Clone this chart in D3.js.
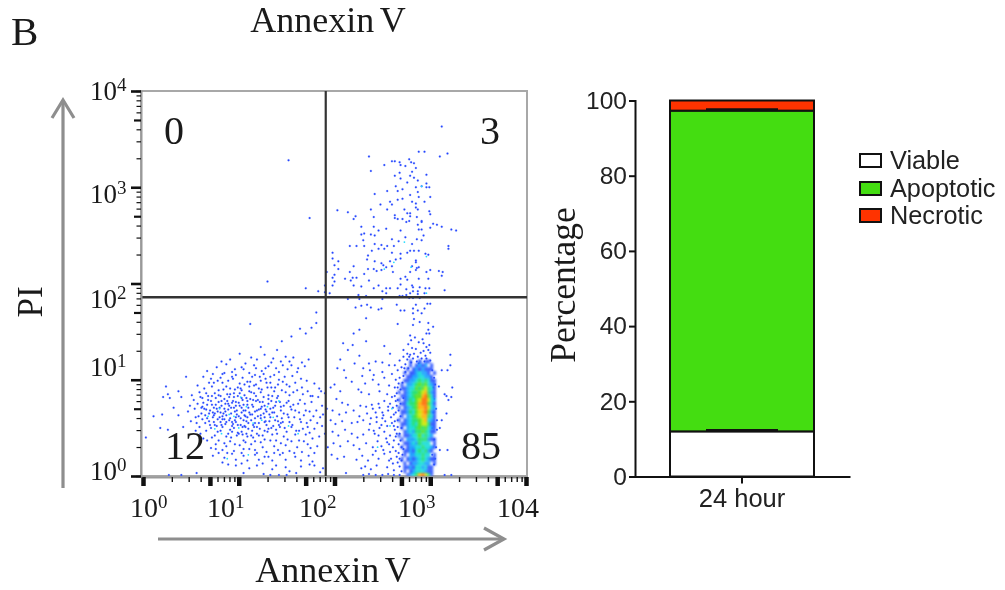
<!DOCTYPE html>
<html>
<head>
<meta charset="utf-8">
<script src="https://cdn.jsdelivr.net/npm/d3@7"></script>
<style>
html, body { margin: 0; padding: 0; background: #fff; }
#chart { width: 1005px; height: 590px; overflow: hidden; }
svg { display: block; filter: blur(0.45px); }
.serif { font-family: "Liberation Serif", serif; fill: #1a1a1a; }
.sans { font-family: "Liberation Sans", sans-serif; fill: #222; }
</style>
</head>
<body>
<div id="chart"></div>
<script>
// flow plot events, [log10 annexin, log10 PI]
const upperEvents = [
[3.12,3.63],[2.88,3.37],[2.94,3.37],[2.36,3.32],[3.10,3.32],[3.18,3.35],[2.60,3.27],[2.63,3.27],[2.52,3.23],[2.68,3.26],[2.69,3.23],[2.74,3.22],
[2.78,3.29],[2.80,3.26],[2.83,3.25],[2.85,3.20],[2.38,3.17],[2.68,3.15],[2.63,3.12],[2.81,3.16],[2.79,3.12],[2.83,3.10],[2.87,3.07],[2.96,3.13],
[2.69,3.09],[2.76,3.05],[2.91,3.01],[2.64,3.01],[2.96,3.04],[2.96,3.00],[2.99,3.00],[2.85,3.00],[2.71,2.98],[2.66,2.96],[2.55,2.96],[2.42,2.93],
[2.87,2.95],[2.79,2.92],[2.88,2.90],[3.00,2.90],[2.66,2.87],[2.71,2.88],[2.81,2.85],[2.85,2.83],[2.94,2.85],[2.58,2.85],[2.60,2.82],[2.48,2.82],
[2.03,2.76],[2.14,2.74],[2.38,2.77],[2.55,2.77],[2.73,2.77],[2.85,2.79],[2.87,2.77],[2.99,2.75],[2.22,2.70],[2.20,2.67],[2.41,2.69],[2.63,2.71],
[2.63,2.68],[2.66,2.67],[2.71,2.67],[2.76,2.73],[2.79,2.73],[2.86,2.69],[3.00,2.72],[2.79,2.70],[2.91,2.65],[3.03,2.62],[3.07,2.61],[3.12,2.59],
[3.22,2.56],[3.27,2.55],[2.75,2.64],[2.78,2.65],[2.28,2.59],[2.41,2.59],[2.54,2.57],[2.87,2.61],[2.91,2.64],[3.00,2.58],[2.69,2.55],[2.88,2.56],
[2.91,2.56],[2.46,2.55],[2.31,2.52],[2.28,2.51],[2.38,2.51],[2.42,2.50],[2.74,2.48],[2.93,2.50],[2.30,2.45],[2.60,2.46],[2.86,2.46],[2.91,2.45],
[2.67,2.44],[2.42,2.41],[2.16,2.39],[2.23,2.39],[2.31,2.39],[2.49,2.40],[2.55,2.39],[2.62,2.39],[2.81,2.41],[2.46,2.36],[2.52,2.36],[2.39,2.34],
[2.79,2.34],[2.83,2.34],[2.88,2.34],[3.19,2.39],[3.19,2.36],[2.60,2.32],[2.69,2.31],[2.76,2.32],[2.95,2.31],[2.98,2.30],[1.98,2.32],[2.35,2.29],
[2.34,2.25],[2.64,2.25],[2.69,2.26],[1.98,2.26],[2.04,2.23],[2.42,2.23],[2.58,2.23],[2.85,2.24],[2.85,2.22],[2.49,2.21],[2.00,2.19],[2.20,2.18],
[2.81,2.18],[2.51,2.19],[2.35,2.15],[2.41,2.15],[2.04,2.15],[2.54,2.17],[2.60,2.18],[2.88,2.17],[2.86,2.16],[2.85,2.14],[2.44,2.13],[2.49,2.14],
[3.00,2.14],[3.09,2.13],[3.13,2.12],[2.96,2.12],[2.16,2.12],[2.31,2.10],[2.61,2.12],[2.79,2.12],[2.00,2.09],[3.12,2.08],[2.19,2.06],[2.23,2.06],
[2.11,2.05],[2.74,2.07],[2.88,2.05],[2.69,2.05],[2.98,2.05],[1.92,2.12],[1.98,2.06],[2.17,2.03],[2.36,2.03],[2.00,2.02],[2.76,2.04],[2.20,1.98],
[1.98,1.98],[1.90,1.98],[2.28,1.97],[2.41,1.95],[2.46,1.98],[2.69,1.99],[2.81,1.98],[2.82,1.96],[2.54,1.95],[2.58,1.95],[2.66,1.95],[2.75,1.94],
[2.89,1.96],[2.95,1.95],[2.99,1.95],[3.15,1.93],[2.50,1.92],[2.54,1.90],[2.79,1.90],[2.82,1.92],[2.87,1.92],[2.87,1.89],[2.94,1.90],[1.90,1.91],
[1.95,1.90],[2.25,1.88],[2.33,1.87],[2.68,1.87],[2.71,1.87],[2.75,1.88],[2.78,1.85],[2.82,1.85],[2.14,1.84],[2.26,1.84],[2.50,1.84],[2.89,1.85],
[1.52,3.28],[1.74,2.68],[1.30,2.02],[1.70,1.95],[1.83,1.92]
];
const lowerRightEvents = [
[2.28,1.77],[2.34,1.78],[2.38,1.75],[2.46,1.73],[2.22,1.75],[2.49,1.74],[2.65,1.78],[2.69,1.72],[2.73,1.72],[2.82,1.74],[2.85,1.78],[2.87,1.72],
[2.91,1.69],[2.97,1.79],[3.00,1.79],[2.94,1.74],[2.82,1.69],[2.83,1.63],[2.33,1.64],[2.89,1.60],[2.98,1.59],[2.66,1.58],[2.26,1.52],[2.20,1.48],
[2.98,1.52],[3.03,1.55],[2.82,1.57],[2.79,1.46],[2.84,1.44],[2.96,1.48],[2.99,1.48],[2.33,1.40],[2.19,1.36],[2.09,1.38],[2.14,1.31],[2.52,1.35],
[2.93,1.38],[2.96,1.34],[2.99,1.36],[2.98,1.31],[3.00,1.28],[2.58,1.27],[2.26,1.25],[2.06,1.21],[2.72,1.31],[2.76,1.27],[3.21,1.26],[2.78,1.24],
[2.82,1.22],[2.86,1.19],[2.91,1.22],[2.96,1.22],[2.72,1.24],[2.68,1.20],[2.74,1.16],[2.80,1.18],[2.88,1.17],[2.94,1.19],[3.00,1.20],[2.63,1.15],
[2.70,1.13],[2.77,1.12],[2.50,1.18],[2.43,1.19],[2.57,1.15],[2.36,1.17],[2.30,1.12],[2.21,1.17],[2.10,1.10],[2.03,1.12],[2.12,1.02],[2.18,0.98],
[2.29,1.04],[2.37,1.10],[2.41,1.05],[2.50,1.08],[2.40,1.00],[2.32,0.96],[2.46,0.95],[2.52,1.02],[2.60,1.06],[2.64,1.00],[2.57,0.94],[2.63,0.92],
[2.00,0.95],[1.96,0.92],[2.06,0.88],[2.25,0.90],[2.28,0.87],[2.36,0.85],[2.47,0.88],[2.55,0.85],[2.60,0.82],[2.65,0.86],[3.12,1.10],[3.18,1.10],
[3.21,1.15],[3.09,0.93],[3.15,0.85],[3.17,0.83],[3.23,0.92],[3.22,0.82],[3.19,0.79],[3.17,0.65],[3.12,0.58],[3.07,0.48],[3.10,0.50],[3.18,0.27],
[3.10,0.27],[3.15,0.01],[3.22,0.01],[2.02,0.80],[2.08,0.76],[2.14,0.74],[2.20,0.68],[2.27,0.73],[2.33,0.72],[2.40,0.70],[2.46,0.75],[2.52,0.78],
[2.58,0.75],[2.64,0.78],[1.98,0.68],[2.05,0.64],[2.12,0.66],[2.26,0.62],[2.34,0.65],[2.38,0.60],[2.43,0.66],[2.50,0.66],[2.56,0.68],[2.62,0.64],
[1.96,0.58],[2.01,0.54],[2.08,0.57],[2.18,0.55],[2.24,0.56],[2.30,0.58],[2.37,0.54],[2.44,0.56],[2.50,0.60],[2.55,0.52],[2.60,0.55],[2.66,0.58],
[1.98,0.46],[2.04,0.42],[2.11,0.48],[2.18,0.44],[2.24,0.40],[2.30,0.43],[2.36,0.48],[2.42,0.44],[2.47,0.50],[2.52,0.46],[2.58,0.42],[2.63,0.48],
[2.68,0.44],[1.99,0.34],[2.06,0.31],[2.14,0.36],[2.20,0.32],[2.26,0.28],[2.33,0.34],[2.40,0.30],[2.45,0.36],[2.49,0.31],[2.55,0.35],[2.61,0.30],
[2.67,0.33],[2.72,0.28],[1.97,0.22],[2.03,0.18],[2.10,0.20],[2.23,0.17],[2.29,0.21],[2.35,0.16],[2.40,0.22],[2.46,0.18],[2.52,0.23],[2.59,0.18],
[2.65,0.20],[2.70,0.16],[2.32,0.10],[2.28,0.08],[2.38,0.07],[2.44,0.11],[2.55,0.09],[2.62,0.06],[2.68,0.10],[2.12,0.03],[2.30,0.01],[2.36,0.02],
[2.43,0.01],[2.50,0.01],[2.56,0.02],[2.62,0.01],[2.68,0.01],
[2.47,0.71],[2.51,0.63],[2.44,0.61],[2.39,0.74],[2.53,0.57],[2.59,0.61],[2.61,0.71],[2.56,0.72],[2.49,0.53],[2.41,0.47],[2.46,0.42],[2.54,0.39],
[2.57,0.33],[2.62,0.37],[2.64,0.26],[2.51,0.27],[2.58,0.25],[2.43,0.26],[2.66,0.51],[2.63,0.57],[2.67,0.68],[2.65,0.73],[2.69,0.37],[2.71,0.22],
[2.66,0.14],[2.61,0.13],[2.57,0.16],[2.69,0.62],[2.70,0.50],[2.72,0.81],[2.69,0.90],[2.67,0.96],[2.72,1.04],[2.66,1.10],[2.74,1.08],[2.70,0.05],
// fringe of the crowded gate
[2.64,0.66],[2.66,0.92],[2.68,1.02],[2.65,0.44],[2.67,0.24],[2.64,0.41],[2.69,0.75],[2.63,0.83],[2.70,0.30],[2.68,0.18],[2.62,0.52],[2.66,0.79],
[2.71,0.97],[2.73,1.12],[2.76,1.21],[2.79,1.26],[2.83,1.27],[2.87,1.24],[2.90,1.28],[2.93,1.30],[2.95,1.25],[2.85,1.32],[2.81,1.33],[2.77,1.37],
[2.80,1.41],[2.88,1.39],[2.92,1.42],[3.02,1.10],[3.04,1.02],[3.03,0.92],[3.04,0.80],[3.03,0.66],[3.02,0.50],[3.04,0.38],[3.02,0.22],[3.04,0.12],
[3.05,0.95],[3.06,0.70],[3.07,0.58],[3.06,0.30],[3.05,0.18]
];
const lowerLeftEvents = [
[1.12,1.58],[1.64,1.53],[1.76,1.54],[1.70,1.48],[1.55,1.45],[1.45,1.40],[1.23,1.34],[1.40,1.31],[1.81,1.70],[1.81,1.59],
[0.03,0.40],[0.11,0.62],[0.21,0.82],[0.24,0.93],[0.26,0.85],[0.28,0.81],[0.20,0.64],[0.18,0.50],[0.26,0.48],[0.32,0.71],[0.37,0.88],[0.40,0.82],
[0.45,1.03],[0.37,0.63],[0.42,0.51],[0.47,0.67],[0.49,0.73],[0.53,0.79],[0.55,0.61],[0.51,0.84],[0.57,0.94],[0.61,0.71],[0.63,1.03],[0.67,1.09],
[0.71,1.01],[0.73,1.06],[0.77,1.13],[0.82,1.19],[0.87,1.16],[0.91,1.21],[0.96,1.11],[1.01,1.27],[1.07,1.17],[1.13,1.23],[1.19,1.21],[1.27,1.26],
[1.36,1.22],[1.49,1.24],[1.53,1.19],[1.57,1.23],[1.66,1.18],[1.69,1.14],[1.73,1.21],[1.46,1.15],[1.39,1.12],[1.31,1.14],[1.24,1.09],[1.18,1.12],
[1.11,1.07],[1.03,1.13],[0.97,1.05],[0.93,1.03],[0.85,1.07],[0.81,1.02],[0.78,0.99],[0.72,0.93],[0.69,0.97],[0.64,0.91],[0.59,0.87],
[0.83,0.97],[0.89,0.99],[0.94,1.01],[1.01,0.96],[1.04,1.02],[1.09,0.98],[1.14,1.03],[1.17,1.05],[1.23,0.99],[1.26,1.06],[1.33,1.03],[1.37,1.05],
[1.42,1.08],[1.48,1.03],[1.51,1.11],[1.56,1.04],[1.61,1.08],[1.65,1.01],[1.71,0.99],[1.79,0.96],[1.84,0.91],[1.59,0.97],[1.53,0.93],[1.46,0.98],
[1.41,0.95],[1.34,0.92],[1.29,0.97],[1.21,0.91],[1.16,0.94],[1.11,0.93],[1.03,0.89],[0.99,0.92],[0.91,0.91],[0.87,0.93],[0.79,0.89],[0.75,0.86],
[0.68,0.83],[0.62,0.81],[0.57,0.75],[0.63,0.76],[0.71,0.78],[0.76,0.81],[0.81,0.83],[0.88,0.85],[0.95,0.82],[1.01,0.86],[1.06,0.84],[1.13,0.87],
[1.18,0.83],[1.23,0.87],[1.31,0.84],[1.37,0.88],[1.41,0.83],[1.49,0.87],[1.53,0.84],[1.61,0.89],[1.67,0.85],[1.72,0.88],[1.77,0.83],[1.83,0.82],
[1.76,0.77],[1.69,0.75],[1.64,0.79],[1.57,0.74],[1.52,0.78],[1.47,0.73],[1.39,0.77],[1.34,0.78],[1.27,0.73],[1.22,0.77],[1.15,0.79],[1.09,0.74],
[1.04,0.79],[0.97,0.73],[0.93,0.76],[0.86,0.75],[0.79,0.77],[0.74,0.71],[0.67,0.74],[0.61,0.65],[0.66,0.69],[0.73,0.66],[0.78,0.67],[0.84,0.65],
[0.89,0.69],[0.96,0.67],[1.03,0.71],[1.07,0.68],[1.14,0.64],[1.21,0.69],[1.26,0.65],[1.33,0.70],[1.37,0.66],[1.44,0.68],[1.51,0.64],[1.55,0.69],
[1.63,0.66],[1.68,0.63],[1.74,0.67],[1.81,0.68],[1.85,0.61],[1.82,0.55],[1.75,0.58],[1.71,0.55],[1.64,0.59],[1.58,0.61],[1.53,0.56],[1.45,0.60],
[1.41,0.57],[1.33,0.61],[1.28,0.57],[1.23,0.60],[1.17,0.55],[1.09,0.61],[1.05,0.58],[0.97,0.61],[0.93,0.56],[0.85,0.59],[0.81,0.56],[0.73,0.61],
[0.69,0.57],[0.62,0.59],[0.56,0.55],[0.50,0.57],[0.55,0.47],[0.59,0.51],[0.66,0.47],[0.71,0.50],[0.78,0.46],[0.83,0.51],[0.91,0.48],[0.95,0.50],
[1.03,0.46],[1.07,0.51],[1.14,0.47],[1.19,0.51],[1.27,0.47],[1.31,0.49],[1.39,0.48],[1.43,0.51],[1.50,0.46],[1.55,0.51],[1.63,0.47],[1.67,0.49],
[1.74,0.45],[1.79,0.49],[1.84,0.41],[1.77,0.39],[1.70,0.43],[1.63,0.37],[1.59,0.43],[1.51,0.38],[1.47,0.41],[1.39,0.37],[1.35,0.43],[1.27,0.38],
[1.21,0.42],[1.17,0.36],[1.09,0.41],[1.05,0.37],[0.98,0.42],[0.91,0.36],[0.87,0.41],[0.79,0.37],[0.75,0.42],[0.67,0.37],[0.63,0.39],[0.71,0.29],
[0.76,0.33],[0.83,0.27],[0.87,0.31],[0.95,0.26],[1.01,0.32],[1.05,0.28],[1.13,0.33],[1.17,0.27],[1.25,0.30],[1.29,0.25],[1.37,0.31],[1.41,0.27],
[1.49,0.32],[1.53,0.26],[1.61,0.30],[1.66,0.25],[1.75,0.29],[1.82,0.31],[0.73,0.21],[0.79,0.24],[0.85,0.19],[0.93,0.23],[0.97,0.17],[1.05,0.21],
[1.09,0.16],[1.17,0.22],[1.21,0.17],[1.31,0.20],[1.35,0.16],[1.43,0.22],[1.49,0.17],[1.59,0.20],[1.65,0.16],[1.73,0.21],[1.77,0.15],[0.89,0.12],
[0.83,0.14],[0.97,0.11],[1.03,0.13],[1.11,0.08],[1.19,0.11],[1.25,0.13],[1.35,0.07],[1.39,0.11],[1.49,0.09],[1.65,0.10],[1.74,0.12],[1.79,0.11],
[0.27,0.01],[0.40,0.01],[0.56,0.03],[1.05,0.03],[1.26,0.02],[1.33,0.01],[1.42,0.01],[1.50,0.01],[1.53,0.05],[1.60,0.03],[1.85,0.04],
[1.86,0.88],[1.87,0.73],[1.88,0.64],[1.87,0.52],[1.90,0.86],[1.90,0.44],[1.92,0.70],[1.93,0.30],[1.88,0.08],
// crowded middle of the cluster
[0.62,0.72],[0.65,0.63],[0.68,0.79],[0.70,0.53],[0.70,0.68],[0.72,0.83],[0.74,0.56],[0.75,0.65],[0.76,0.74],[0.77,0.52],[0.79,0.84],[0.80,0.61],
[0.80,0.71],[0.82,0.53],[0.82,0.78],[0.83,0.59],[0.84,0.90],[0.85,0.70],[0.86,0.54],[0.87,0.63],[0.88,0.78],[0.89,0.44],[0.90,0.73],[0.90,0.58],
[0.91,0.85],[0.92,0.65],[0.93,0.46],[0.94,0.78],[0.94,0.54],[0.95,0.71],[0.96,0.90],[0.97,0.56],[0.98,0.68],[0.99,0.83],[0.99,0.45],[1.00,0.62],
[1.00,0.76],[1.02,0.53],[1.02,0.91],[1.03,0.66],[1.04,0.43],[1.05,0.74],[1.06,0.95],[1.06,0.52],[1.07,0.62],[1.08,0.81],[1.08,0.44],[1.10,0.71],
[1.10,0.55],[1.11,0.88],[1.12,0.64],[1.12,0.98],[1.13,0.42],[1.15,0.72],[1.15,0.53],[1.16,0.86],[1.17,0.60],[1.18,0.95],[1.19,0.68],[1.19,0.44],
[1.20,0.79],[1.21,0.55],[1.22,1.03],[1.23,0.63],[1.24,0.90],[1.24,0.72],[1.25,0.42],[1.26,0.82],[1.27,0.56],[1.28,1.01],[1.29,0.67],[1.30,0.92],
[1.30,0.46],[1.31,0.75],[1.32,0.57],[1.33,0.97],[1.35,0.66],[1.35,0.83],[1.36,0.52],[1.38,0.73],[1.38,0.92],[1.40,0.44],[1.40,0.62],[1.42,1.00],
[1.43,0.77],[1.44,0.55],[1.45,0.89],[1.47,0.65],[1.48,0.50],[1.50,0.76],[1.50,0.95],[1.52,0.61],[1.54,0.72],[1.56,0.53],[1.57,0.87],[1.59,0.68],
[1.60,0.47],[1.62,0.75],[1.65,0.56],[1.66,0.92],[1.70,0.68],[1.72,0.51],[1.75,0.83],[1.78,0.62],[0.72,0.40],[0.76,0.28],[0.81,0.47],[0.85,0.34],
[0.88,0.24],[0.92,0.40],[0.96,0.33],[1.00,0.44],[1.03,0.24],[1.07,0.35],[1.11,0.28],[1.15,0.40],[1.19,0.24],[1.23,0.35],[1.27,0.20],[1.33,0.37],
[1.37,0.24],[1.44,0.34],[1.46,0.24],[1.55,0.36],[1.58,0.24],[1.68,0.36],[1.72,0.33],[1.79,0.24],[0.60,0.44],[0.65,0.55],[0.58,0.62],[0.54,0.70],
[0.60,0.82],[0.66,0.86],[0.74,0.97],[0.83,1.06],[0.93,1.08],[1.05,1.11],[1.16,1.15],[1.28,1.12],[1.34,1.18],[1.44,1.19],[1.55,1.15],[1.62,1.12],
[0.64,0.70],[0.67,0.60],[0.69,0.65],[0.72,0.74],[0.74,0.63],[0.75,0.53],[0.77,0.70],[0.78,0.59],[0.81,0.66],[0.82,0.73],[0.83,0.62],[0.85,0.80],
[0.86,0.67],[0.87,0.56],[0.89,0.75],[0.90,0.82],[0.91,0.60],[0.92,0.71],[0.93,0.52],[0.95,0.86],[0.96,0.58],[0.97,0.77],[0.98,0.64],[0.99,0.53],
[1.01,0.73],[1.02,0.60],[1.03,0.81],[1.04,0.51],[1.05,0.68],[1.06,0.63],[1.08,0.57],[1.09,0.78],[1.10,0.49],[1.11,0.66],[1.12,0.80],[1.13,0.58],
[1.14,0.74],[1.16,0.51],[1.17,0.67],[1.18,0.78],[1.20,0.62],[1.22,0.49],[1.23,0.70],[1.25,0.77],[1.27,0.61],[1.28,0.69],[1.29,0.53],[1.31,0.80],
[1.32,0.64],[1.34,0.50],[1.36,0.71],[1.38,0.58],[1.40,0.81],[1.42,0.53],[1.44,0.72],[1.46,0.56]
];
// the few brighter dots where events overlap
const overlapEvents = [
[0.80,0.70],[0.95,0.62],[1.02,0.82],[0.82,0.44],[1.15,0.55],[1.30,0.72],[1.52,0.52],[0.68,0.62],[1.62,0.44],[1.10,0.22],[0.88,0.18],
[0.90,0.64],[1.08,0.72],[1.24,0.58],[1.36,0.61],[0.75,0.49],[1.42,0.78],[1.00,0.50],
[2.62,2.22],[2.52,2.15],[2.80,2.17],[2.96,2.28],[2.73,2.43],[2.91,3.01],[2.96,1.90],[2.60,0.70],[2.58,0.52],[2.45,0.30]
];
// hand estimated density of the crowded gate, digit per bin, top row first
const densityAnnexin = [2.66,2.69,2.72,2.75,2.78,2.81,2.84,2.87,2.91,2.94,2.97,3.00,3.03,3.06];
const densityPI = [1.21,1.17,1.13,1.09,1.05,1.01,0.97,0.93,0.89,0.85,0.81,0.77,0.73,0.69,0.64,0.60,0.56,0.52,0.48,0.44,0.40,0.36,0.32,0.28,0.24,0.20,0.15,0.11,0.07,0.03,0];
const densityRows = [
"0000100101100",
"0000101212010",
"0001012121110",
"0010112322101",
"0001122332210",
"0011223434311",
"0102234545321",
"0112335456431",
"1012344567421",
"0112345578531",
"1012435688632",
"0113445788531",
"1012345778632",
"0112435678521",
"0102345677431",
"1012344567321",
"0112343566411",
"0102334545321",
"0012324454311",
"1011233534320",
"0102223444211",
"0011232433301",
"0101223343321",
"0011213434210",
"0010223343301",
"0101212343211",
"0010122332201",
"0011213323110",
"0010123332110",
"0001234786410"
];
const densityColors = ["#ffffff","#2f57ff","#1aa0ff","#14dcd8","#20e070","#58e020","#c8e800","#ffb000","#ff6a00"];

const flowDecades = [0,1,2,3,4];
const flowTickLabels = ["10","10","10","10","104"];
const flowXSup = ["0","1","2","3",""];
const flowYSup = ["0","1","2","3","4"];
const gateAnnexin = 81;
const gatePI = 72;
const quadrantLabels = ["0","3","12","85"];

const barCategories = ["24 hour"];
const barSeries = ["Viable","Apoptotic","Necrotic"];
const barValues = [12,85.3,2.7];
const barErrors = [0.35,0.35,0];
const barColors = ["#ffffff","#44dd11","#ff3300"];
const barTicks = [0,20,40,60,80,100];

const svg = d3.select("#chart").append("svg").attr("width",1005).attr("height",590);

function logTicks() {
    var out = [];
    for (let d = 0; d < 4; d++) {
        for (let m = 1; m < 10; m++) out.push(m * Math.pow(10,d));
    }
    out.push(10000);
    return out;
}

function isDecade(v) { return Math.abs(Math.log10(v) % 1) < 1e-6; }
function isFive(v) { return Math.abs(Math.log10(v / 5) % 1) < 1e-6; }

function drawFlow() {
    const x = d3.scaleLog().domain([1,10000]).range([143,526]);
    const y = d3.scaleLog().domain([1,10000]).range([476,91]);
    const g = svg.append("g");

    // frame, lighter in the scan
    g.append("rect").attr("x",141).attr("y",91).attr("width",386).attr("height",385)
        .attr("fill","none").attr("stroke","#a8a8a8").attr("stroke-width",2);

    // sparse dots first, then the crowded gate on top
    const events = upperEvents.concat(lowerRightEvents,lowerLeftEvents);
    g.append("g").selectAll("circle").data(events).enter().append("circle")
        .attr("cx",d => x(Math.pow(10,d[0])))
        .attr("cy",d => y(Math.pow(10,d[1])))
        .attr("r",1)
        .attr("fill","#2040ff")
        .attr("stroke","#6f8cff").attr("stroke-opacity",0.35).attr("stroke-width",0.8);

    const cells = [];
    densityRows.forEach((row,j) => {
        row.split("").forEach((c,i) => {
            if (c != "0") cells.push({i:i,j:j,level:+c});
        });
    });
    g.append("g").style("filter","blur(1px)").selectAll("rect").data(cells).enter().append("rect")
        .attr("x",d => x(Math.pow(10,densityAnnexin[d.i])))
        .attr("y",d => y(Math.pow(10,densityPI[d.j])))
        .attr("width",d => x(Math.pow(10,densityAnnexin[d.i+1])) - x(Math.pow(10,densityAnnexin[d.i])))
        .attr("height",d => y(Math.pow(10,densityPI[d.j+1])) - y(Math.pow(10,densityPI[d.j])))
        .attr("fill",d => densityColors[d.level]);

    g.append("g").selectAll("circle").data(overlapEvents).enter().append("circle")
        .attr("cx",d => x(Math.pow(10,d[0])))
        .attr("cy",d => y(Math.pow(10,d[1])))
        .attr("r",0.9)
        .attr("fill","#22ddff");

    // gate lines
    g.append("line").attr("x1",x(gateAnnexin)).attr("x2",x(gateAnnexin)).attr("y1",91).attr("y2",476)
        .attr("stroke","#333").attr("stroke-width",2.2);
    g.append("line").attr("x1",141).attr("x2",527).attr("y1",y(gatePI)).attr("y2",y(gatePI))
        .attr("stroke","#333").attr("stroke-width",2.4);

    // axes
    const xAxis = g.append("g").attr("transform","translate(0,477)")
        .call(d3.axisBottom(x).tickValues(logTicks()).tickFormat("").tickSize(5));
    const yAxis = g.append("g").attr("transform","translate(141,0)")
        .call(d3.axisLeft(y).tickValues(logTicks()).tickFormat("").tickSize(5));
    [xAxis,yAxis].forEach(a => {
        a.select(".domain").attr("stroke","#999").attr("stroke-width",2);
        a.selectAll(".tick line").attr("stroke","#222").attr("stroke-width",1.4);
    });
    xAxis.selectAll(".tick line")
        .attr("stroke","#111")
        .attr("y2",d => (isDecade(d) || isFive(d)) ? 9 : 5)
        .attr("stroke-width",d => (isDecade(d) || isFive(d)) ? 4.5 : 1.4);
    yAxis.selectAll(".tick line")
        .attr("stroke","#111")
        .attr("x2",d => isDecade(d) ? -10 : (isFive(d) ? -7 : -4.5))
        .attr("stroke-width",d => isDecade(d) ? 2.6 : (isFive(d) ? 2.2 : 1.2));

    // tick labels with raised exponents, placed where the figure has them
    const xLabelLeft = [130,207,299,398,497];
    const xLabels = g.append("g").selectAll("text").data(flowDecades).enter().append("text")
        .attr("class","serif").attr("font-size",28).attr("y",517)
        .attr("x",(d,i) => xLabelLeft[i])
        .text((d,i) => flowTickLabels[i]);
    xLabels.append("tspan").attr("font-size",19).attr("dy",-9).text((d,i) => flowXSup[i]);

    const yLabelBase = [480,376,308,203,100];
    const yLabels = g.append("g").selectAll("text").data(flowDecades).enter().append("text")
        .attr("class","serif").attr("font-size",27).attr("x",90)
        .attr("y",(d,i) => yLabelBase[i])
        .text("10");
    yLabels.append("tspan").attr("font-size",19).attr("dy",-9).text((d,i) => flowYSup[i]);

    // quadrant percentages
    const quadPos = [[174,144],[490,144],[185,459],[481,459]];
    g.append("g").selectAll("text").data(quadrantLabels).enter().append("text")
        .attr("class","serif").attr("font-size",40).attr("text-anchor","middle")
        .attr("x",(d,i) => quadPos[i][0])
        .attr("y",(d,i) => quadPos[i][1])
        .text(d => d);

    // arrows
    const arrow = d3.line();
    const grey = "#8e8e8e";
    const arrows = [
        [[63,488],[63,100]],
        [[52,118],[63,100],[74,118]],
        [[158,539],[504,539]],
        [[484,528],[504,539],[484,550]]
    ];
    g.append("g").selectAll("path").data(arrows).enter().append("path")
        .attr("d",d => arrow(d)).attr("fill","none")
        .attr("stroke",grey).attr("stroke-width",3.2);

    g.append("text").attr("class","serif").attr("font-size",36).attr("word-spacing",-3).attr("x",333).attr("y",582)
        .attr("text-anchor","middle").text("Annexin V");
    g.append("text").attr("class","serif").attr("font-size",36).attr("word-spacing",-3).attr("x",328).attr("y",32)
        .attr("text-anchor","middle").text("Annexin V");
    g.append("text").attr("class","serif").attr("font-size",35)
        .attr("transform","translate(42,302) rotate(-90)")
        .attr("text-anchor","middle").text("PI");
    g.append("text").attr("class","serif").attr("font-size",41).attr("x",11).attr("y",45).text("B");
} //drawFlow

function drawBars() {
    const y = d3.scaleLinear().domain([0,100]).range([476.5,100.5]);
    const x = d3.scaleBand().domain(barCategories).range([635,850]).paddingInner(0).paddingOuter(0);
    const g = svg.append("g");
    const barLeft = 670, barWidth = 144;

    const stack = [];
    let base = 0;
    barSeries.forEach((s,i) => {
        stack.push({name:s,y0:base,y1:base + barValues[i],color:barColors[i],err:barErrors[i]});
        base += barValues[i];
    });

    g.selectAll(".seg").data(stack).enter().append("rect").attr("class","seg")
        .attr("x",barLeft).attr("width",barWidth)
        .attr("y",d => y(d.y1))
        .attr("height",d => y(d.y0) - y(d.y1))
        .attr("fill",d => d.color)
        .attr("stroke","#111").attr("stroke-width",2);

    // error caps, only the upper side is visible
    const mid = barLeft + barWidth / 2;
    g.selectAll(".err").data(stack.filter(d => d.err > 0)).enter().append("line").attr("class","err")
        .attr("x1",mid - 36).attr("x2",mid + 36)
        .attr("y1",d => y(d.y1 + d.err)).attr("y2",d => y(d.y1 + d.err))
        .attr("stroke","#111").attr("stroke-width",2);

    const yAxis = g.append("g").attr("transform","translate(635,0)")
        .call(d3.axisLeft(y).tickValues(barTicks).tickSize(6).tickPadding(2));
    const xAxis = g.append("g").attr("transform","translate(0,476.5)")
        .call(d3.axisBottom(x).tickSize(7).tickPadding(5).tickSizeOuter(0));
    xAxis.selectAll(".tick").attr("transform","translate(" + mid + ",0)");
    [xAxis,yAxis].forEach(a => {
        a.selectAll(".domain").attr("stroke","#111").attr("stroke-width",2);
        a.selectAll(".tick line").attr("stroke","#111").attr("stroke-width",2);
        a.selectAll("text").attr("class","sans").attr("font-size",24).attr("fill","#222");
    });
    yAxis.selectAll("text").attr("font-size",24.5);
    xAxis.selectAll("text").attr("font-size",25.5);

    g.append("text").attr("class","serif").attr("font-size",35.5)
        .attr("transform","translate(575,285) rotate(-90)")
        .attr("text-anchor","middle").text("Percentage");

    // legend
    const rowY = [154,182,209];
    const legend = g.append("g").selectAll("g").data(barSeries).enter().append("g")
        .attr("transform",(d,i) => "translate(860," + rowY[i] + ")");
    legend.append("rect").attr("width",21).attr("height",13)
        .attr("fill",(d,i) => barColors[i]).attr("stroke","#111").attr("stroke-width",2);
    legend.append("text").attr("class","sans").attr("font-size",25.3).attr("x",30).attr("y",15).text(d => d);
} //drawBars

drawFlow();
drawBars();
</script>
</body>
</html>
